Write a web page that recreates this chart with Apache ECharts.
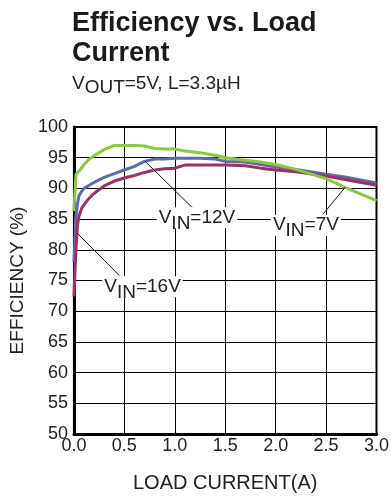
<!DOCTYPE html>
<html>
<head>
<meta charset="utf-8">
<script src="https://cdn.jsdelivr.net/npm/echarts@6/dist/echarts.min.js"></script>
<style>
html,body{margin:0;padding:0;background:#fff;}
#c{width:392px;height:498px;}
</style>
</head>
<body>
<div id="c"></div>
<script>
// Load current (A)
const loadCurrent = [0, 0.02, 0.035, 0.05, 0.08, 0.1, 0.14, 0.18, 0.24, 0.3, 0.4, 0.5, 0.6, 0.7, 0.8, 0.9, 1.0, 1.1, 1.25, 1.4, 1.5, 1.7, 1.85, 2.0, 2.2, 2.5, 2.7, 3.0];
// Efficiency (%)
const effVin7 = [86.3, 92.3, 92.5, 92.8, 93.4, 93.9, 94.6, 95.1, 95.7, 96.3, 97.0, 97.0, 97.0, 96.9, 96.5, 96.4, 96.4, 96.1, 95.8, 95.4, 95.0, 94.6, 94.3, 93.9, 93.1, 91.6, 90.1, 88.0];
const effVin12 = [78.0, 85.5, 87.5, 88.8, 89.6, 90.0, 90.4, 90.8, 91.3, 91.8, 92.4, 93.0, 93.6, 94.4, 94.8, 94.8, 94.9, 94.9, 94.9, 94.8, 94.4, 94.3, 93.9, 93.5, 93.1, 92.3, 91.8, 90.9];
const effVin16 = [72.4, 80.2, 83.9, 85.5, 86.9, 87.3, 88.2, 88.9, 89.7, 90.4, 91.2, 91.7, 92.1, 92.6, 93.0, 93.2, 93.3, 93.8, 93.8, 93.8, 93.8, 93.7, 93.3, 93.0, 92.7, 92.0, 91.4, 90.5];
const xTicks = [0, 0.5, 1.0, 1.5, 2.0, 2.5, 3.0];
const yTicks = [50, 55, 60, 65, 70, 75, 80, 85, 90, 95, 100];

// Annotation labels: [label suffix, label centre (x,y), leader start, leader end] in data units
const annVin12 = ['=12V', [1.22, 85.2], [0.71, 94.35], [1.19, 86.6]];
const annVin7 = ['=7V', [2.30, 84.0], [2.47, 85.8], [2.69, 90.2]];
const annVin16 = ['=16V', [0.68, 74.0], [0.04, 82.6], [0.45, 75.8]];

const FONT = '"Liberation Sans", Arial, Helvetica, sans-serif';
const pair = (xs, ys) => xs.map((x, i) => [x, ys[i]]);

const chart = echarts.init(document.getElementById('c'), null, {renderer: 'canvas'});
const option = {
  animation: false,
  backgroundColor: '#fff',
  title: {
    text: 'Efficiency vs. Load\nCurrent',
    left: 67, top: 4,
    textStyle: {fontFamily: FONT, fontSize: 27, fontWeight: 'bold', color: '#1a1a1a', lineHeight: 30}
  },
  grid: {left: 68, right: 12, top: 127, bottom: 61, show: true, borderColor: '#000', borderWidth: 2, containLabel: false},
  xAxis: {
    type: 'value', min: 0, max: 3, interval: 0.5,
    name: 'LOAD CURRENT(A)', nameLocation: 'middle', nameGap: 39,
    nameTextStyle: {fontFamily: FONT, fontSize: 20, color: '#222'},
    axisLine: {show: true, lineStyle: {color: '#000', width: 3}},
    axisTick: {show: false},
    axisLabel: {fontFamily: FONT, fontSize: 18, color: '#222', margin: 3,
      formatter: v => xTicks.includes(v) ? v.toFixed(1) : ''},
    splitLine: {show: true, lineStyle: {color: '#000', width: 1}}
  },
  yAxis: {
    type: 'value', min: 50, max: 100, interval: 5,
    name: 'EFFICIENCY (%)', nameLocation: 'middle', nameGap: 44,
    nameTextStyle: {fontFamily: FONT, fontSize: 19, color: '#222'},
    axisLine: {show: true, lineStyle: {color: '#000', width: 3}},
    axisTick: {show: false},
    axisLabel: {fontFamily: FONT, fontSize: 18, color: '#222', margin: 6,
      formatter: v => yTicks.includes(v) ? String(v) : ''},
    splitLine: {show: true, lineStyle: {color: '#000', width: 1}}
  },
  series: [
    {name: 'VIN=12V', type: 'line', data: pair(loadCurrent, effVin12), showSymbol: false,
      lineStyle: {color: '#5d6ba6', width: 3}, itemStyle: {color: '#5d6ba6'}},
    {name: 'VIN=16V', type: 'line', data: pair(loadCurrent, effVin16), showSymbol: false,
      lineStyle: {color: '#9a3168', width: 3}, itemStyle: {color: '#9a3168'}},
    {name: 'VIN=7V', type: 'line', data: pair(loadCurrent, effVin7), showSymbol: false,
      lineStyle: {color: '#8dc63f', width: 3}, itemStyle: {color: '#8dc63f'}}
  ]
};
chart.setOption(option);

function subText(main, sub, rest, fs, drop) {
  return {
    text: '{m|' + main + '}{s|' + sub + '}{m|' + rest + '}',
    rich: {
      m: {fontFamily: FONT, fontSize: fs, color: '#222', lineHeight: fs + 2},
      s: {fontFamily: FONT, fontSize: fs, color: '#222', lineHeight: fs + 2, padding: [drop * 2, 0, 0, 0]}
    }
  };
}

const graphics = [];
// subtitle
const st = subText('V', 'OUT', '=5V, L=3.3µH', 19, 4);
graphics.push({type: 'text', left: 72, top: 70, z: 10,
  style: Object.assign({fill: '#222'}, st)});

[annVin12, annVin7, annVin16].forEach(a => {
  const c = chart.convertToPixel({gridIndex: 0}, a[1]);
  const p1 = chart.convertToPixel({gridIndex: 0}, a[2]);
  const p2 = chart.convertToPixel({gridIndex: 0}, a[3]);
  graphics.push({type: 'line', z: 20, shape: {x1: p1[0], y1: p1[1], x2: p2[0], y2: p2[1]},
    style: {stroke: '#111', lineWidth: 1}});
  const t = subText('V', 'IN', a[0], 19, 6);
  graphics.push({type: 'text', z: 30, x: c[0], y: c[1],
    style: Object.assign({fill: '#222', align: 'center', verticalAlign: 'middle',
      backgroundColor: '#fff', padding: [0, 2, 0, 2]}, t)});
});
chart.setOption({graphic: graphics});
</script>
</body>
</html>
